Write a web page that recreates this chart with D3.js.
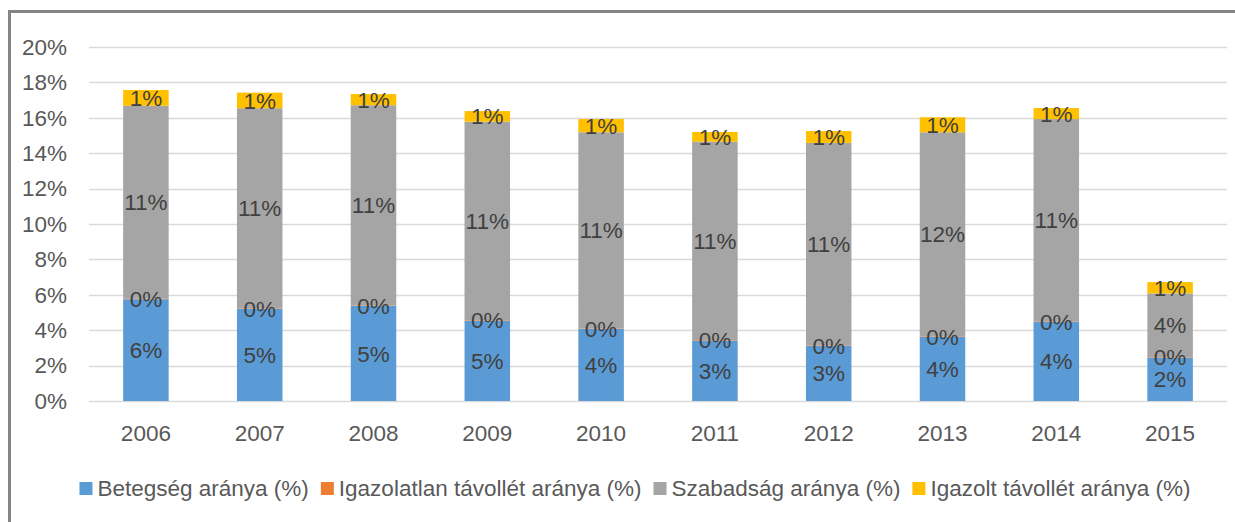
<!DOCTYPE html>
<html lang="hu">
  <head>
    <meta charset="UTF-8" />
    <title>Távollét arányok</title>
    <script src="https://d3js.org/d3.v7.min.js"></script>
    <style>
      html,
      body {
        margin: 0;
        padding: 0;
        background: #ffffff;
      }
      text {
        font-family: "Liberation Sans", Arial, sans-serif;
      }
    </style>
  </head>
  <body>
    <div id="viz"></div>
    <script>
      // data (percent)
      const years = ["2006", "2007", "2008", "2009", "2010", "2011", "2012", "2013", "2014", "2015"];
      const betegseg = [5.75, 5.21, 5.37, 4.54, 4.07, 3.41, 3.12, 3.63, 4.48, 2.45];
      const igazolatlan = [0.03, 0.03, 0.03, 0.03, 0.03, 0.03, 0.03, 0.03, 0.03, 0.03];
      const szabadsag = [10.9, 11.3, 11.31, 11.21, 11.08, 11.21, 11.43, 11.52, 11.42, 3.6];
      const igazolt = [0.89, 0.88, 0.63, 0.6, 0.75, 0.55, 0.67, 0.85, 0.62, 0.64];
      const seriesNames = [
        "Betegség aránya (%)",
        "Igazolatlan távollét aránya (%)",
        "Szabadság aránya (%)",
        "Igazolt távollét aránya (%)",
      ];
      const yTicks = [0, 2, 4, 6, 8, 10, 12, 14, 16, 18, 20];

      const colors = ["#5B9BD5", "#ED7D31", "#A5A5A5", "#FFC000"];
      const W = 1235, H = 522;
      const fontSize = 22.5;

      const svg = d3.select("#viz").append("svg")
        .attr("width", W).attr("height", H);

      svg.append("rect").attr("width", W).attr("height", H).attr("fill", "#fff");

      // outer frame (cut off at right and bottom, like the screenshot)
      svg.append("rect")
        .attr("x", 9.5).attr("y", 11.5)
        .attr("width", W + 20).attr("height", H + 20)
        .attr("fill", "none")
        .attr("stroke", "#858585")
        .attr("stroke-width", 3);

      const x = d3.scaleBand()
        .domain(years)
        .range([89, 1227])
        .paddingInner(0.6)
        .paddingOuter(0.3);

      const y = d3.scaleLinear().domain([0, 20]).range([401, 47]);

      // gridlines
      svg.append("g")
        .selectAll("line")
        .data(yTicks)
        .join("line")
        .attr("x1", 89).attr("x2", 1227)
        .attr("y1", (d) => Math.round(y(d)) + 0.5)
        .attr("y2", (d) => Math.round(y(d)) + 0.5)
        .attr("stroke", "#d9d9d9")
        .attr("stroke-width", 1.5);

      // y axis labels
      const yAxis = d3.axisLeft(y).tickValues(yTicks).tickSize(0).tickPadding(0)
        .tickFormat((d) => d + "%");
      const gy = svg.append("g").attr("transform", "translate(67,0)").call(yAxis);
      gy.select(".domain").remove();
      gy.selectAll("text")
        .attr("fill", "#595959")
        .style("font-family", "'Liberation Sans', Arial, sans-serif")
        .style("font-size", fontSize + "px");

      // x axis labels
      const xAxis = d3.axisBottom(x).tickSize(0).tickPadding(0);
      const gx = svg.append("g").attr("transform", "translate(0,425)").call(xAxis);
      gx.select(".domain").remove();
      gx.selectAll("text")
        .attr("fill", "#595959")
        .attr("dy", "0.72em")
        .style("font-family", "'Liberation Sans', Arial, sans-serif")
        .style("font-size", fontSize + "px");

      // stack
      const rows = years.map((yr, i) => ({
        year: yr,
        s0: betegseg[i],
        s1: igazolatlan[i],
        s2: szabadsag[i],
        s3: igazolt[i],
      }));
      const stacked = d3.stack().keys(["s0", "s1", "s2", "s3"])(rows);

      const layers = svg.append("g")
        .selectAll("g")
        .data(stacked)
        .join("g")
        .attr("fill", (d, i) => colors[i]);

      layers.selectAll("rect")
        .data((d) => d)
        .join("rect")
        .attr("x", (d) => x(d.data.year))
        .attr("width", x.bandwidth())
        .attr("y", (d) => y(d[1]))
        .attr("height", (d) => y(d[0]) - y(d[1]));

      // data labels
      const labels = svg.append("g");
      stacked.forEach((layer) => {
        labels.selectAll(null)
          .data(layer)
          .join("text")
          .attr("x", (d) => x(d.data.year) + x.bandwidth() / 2)
          .attr("y", (d) => y((d[0] + d[1]) / 2))
          .attr("dy", "0.36em")
          .attr("text-anchor", "middle")
          .attr("fill", "#404040")
          .style("font-size", fontSize + "px")
          .text((d) => Math.round(d[1] - d[0]) + "%");
      });

      // legend
      const legend = svg.append("g");
      const items = legend.selectAll("g")
        .data(seriesNames)
        .join("g");
      items.append("rect")
        .attr("width", 13).attr("height", 13)
        .attr("y", 482)
        .attr("fill", (d, i) => colors[i]);
      items.append("text")
        .attr("x", 18)
        .attr("y", 488)
        .attr("dy", "0.36em")
        .attr("fill", "#595959")
        .style("font-size", fontSize + "px")
        .text((d) => d);

      let widths = [];
      items.each(function () {
        widths.push(18 + d3.select(this).select("text").node().getComputedTextLength());
      });
      const gap = 12;
      const total = d3.sum(widths) + gap * (widths.length - 1);
      let cx = 635 - total / 2;
      items.attr("transform", (d, i) => {
        const t = "translate(" + cx + ",0)";
        cx += widths[i] + gap;
        return t;
      });
    </script>
  </body>
</html>
